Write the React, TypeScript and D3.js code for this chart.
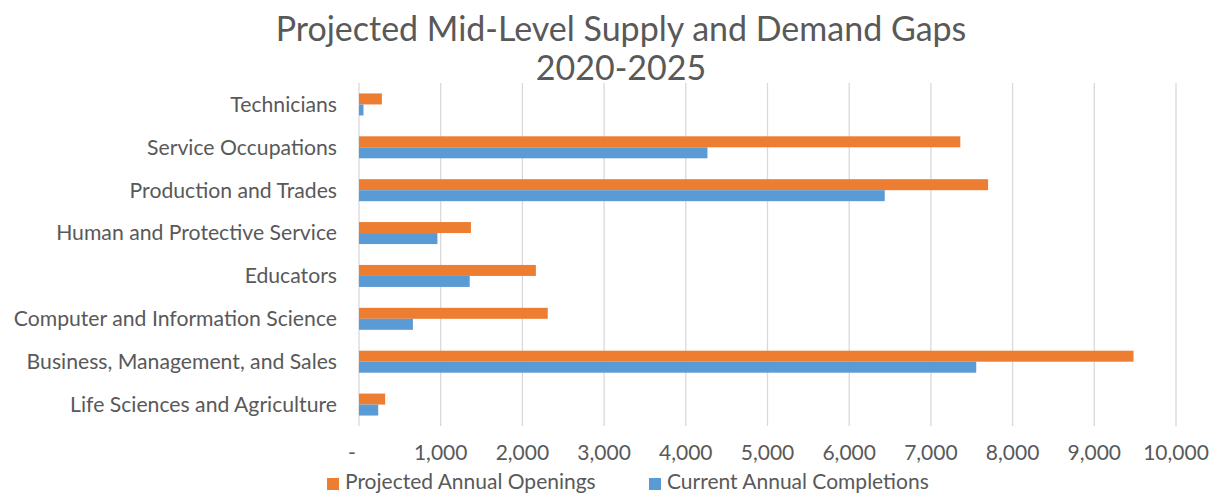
import { useEffect, useRef } from "react";
import { select, scaleLinear, scaleBand, format, range } from "d3";

// kategorie od góry do dołu
const categories = [
  "Technicians",
  "Service Occupations",
  "Production and Trades",
  "Human and Protective Service",
  "Educators",
  "Computer and Information Science",
  "Business, Management, and Sales",
  "Life Sciences and Agriculture",
];

// Projected Annual Openings
const openings = [280, 7360, 7700, 1370, 2165, 2310, 9480, 320];
// Current Annual Completions
const completions = [55, 4265, 6435, 960, 1355, 660, 7555, 235];

const seriesNames = ["Projected Annual Openings", "Current Annual Completions"];
const seriesColors = ["#ED7D31", "#5B9BD5"];
const xTicks = range(0, 10001, 1000);
const titleLines = ["Projected Mid-Level Supply and Demand Gaps", "2020-2025"];

const W = 1213;
const H = 495;
const FONT = "Lato, 'Noto Sans', sans-serif";
const TEXT = "#595959";

const App = () => {
  const svgRef = useRef<SVGSVGElement>(null);

  useEffect(() => {
    const svg = select(svgRef.current);

    const xScale = scaleLinear().domain([0, 10000]).range([359, 1176]);
    const yScale = scaleBand()
      .domain(categories)
      .range([83, 426])
      .paddingInner(0.487)
      .paddingOuter(0.2435);
    const subScale = scaleBand()
      .domain(seriesNames)
      .range([0, yScale.bandwidth()]);

    // siatka pionowa
    svg
      .select(".grid")
      .selectAll("line")
      .data(xTicks)
      .join("line")
      .attr("x1", (d) => xScale(d))
      .attr("x2", (d) => xScale(d))
      .attr("y1", 83)
      .attr("y2", 426)
      .attr("stroke", "#d9d9d9")
      .attr("stroke-width", 1.3);

    // słupki - każda seria osobno
    const rows = categories.map((c, i) => [
      { cat: c, s: seriesNames[0], v: openings[i], color: seriesColors[0] },
      { cat: c, s: seriesNames[1], v: completions[i], color: seriesColors[1] },
    ]).flat();

    svg
      .select(".bars")
      .selectAll("rect")
      .data(rows)
      .join("rect")
      .attr("x", xScale(0))
      .attr("y", (d) => (yScale(d.cat) as number) + (subScale(d.s) as number))
      .attr("width", (d) => xScale(d.v) - xScale(0))
      .attr("height", subScale.bandwidth())
      .attr("fill", (d) => d.color);

    // etykiety kategorii
    svg
      .select(".y-labels")
      .selectAll("text")
      .data(categories)
      .join("text")
      .attr("x", 337)
      .attr("y", (d) => (yScale(d) as number) + yScale.bandwidth() / 2)
      .attr("dy", "0.35em")
      .attr("text-anchor", "end")
      .attr("font-size", 21.2)
      .attr("fill", TEXT)
      .text((d) => d);

    // etykiety osi X
    svg
      .select(".x-labels")
      .selectAll("text")
      .data(xTicks)
      .join("text")
      .attr("x", (d) => (d === 0 ? xScale(d) - 7 : xScale(d)))
      .attr("y", 460)
      .attr("text-anchor", "middle")
      .attr("font-size", 21)
      .attr("fill", TEXT)
      .text((d) => (d === 0 ? "-" : format(",")(d)));

    // legenda
    const legendX = [327, 649];
    const legend = svg
      .select(".legend")
      .selectAll("g")
      .data(seriesNames)
      .join("g")
      .attr("transform", (d, i) => `translate(${legendX[i]}, 478)`);
    legend
      .selectAll("rect")
      .data((d, i) => [i])
      .join("rect")
      .attr("width", 12)
      .attr("height", 12)
      .attr("fill", (i) => seriesColors[i]);
    legend
      .selectAll("text")
      .data((d) => [d])
      .join("text")
      .attr("x", 18)
      .attr("y", 11)
      .attr("font-size", 21)
      .attr("fill", TEXT)
      .text((d) => d);

    // tytuł
    svg
      .select(".title")
      .selectAll("text")
      .data(titleLines)
      .join("text")
      .attr("x", 621)
      .attr("y", (d, i) => 41 + i * 39)
      .attr("text-anchor", "middle")
      .attr("font-size", 34)
      .attr("fill", TEXT)
      .text((d) => d);
  }, []);

  return (
    <svg
      ref={svgRef}
      width={W}
      height={H}
      style={{ position: "absolute", left: 0, top: 0, background: "#fff" }}
      fontFamily={FONT}
    >
      <g className="grid" />
      <g className="bars" />
      <g className="y-labels" />
      <g className="x-labels" />
      <g className="legend" />
      <g className="title" />
    </svg>
  );
};

export default App;
